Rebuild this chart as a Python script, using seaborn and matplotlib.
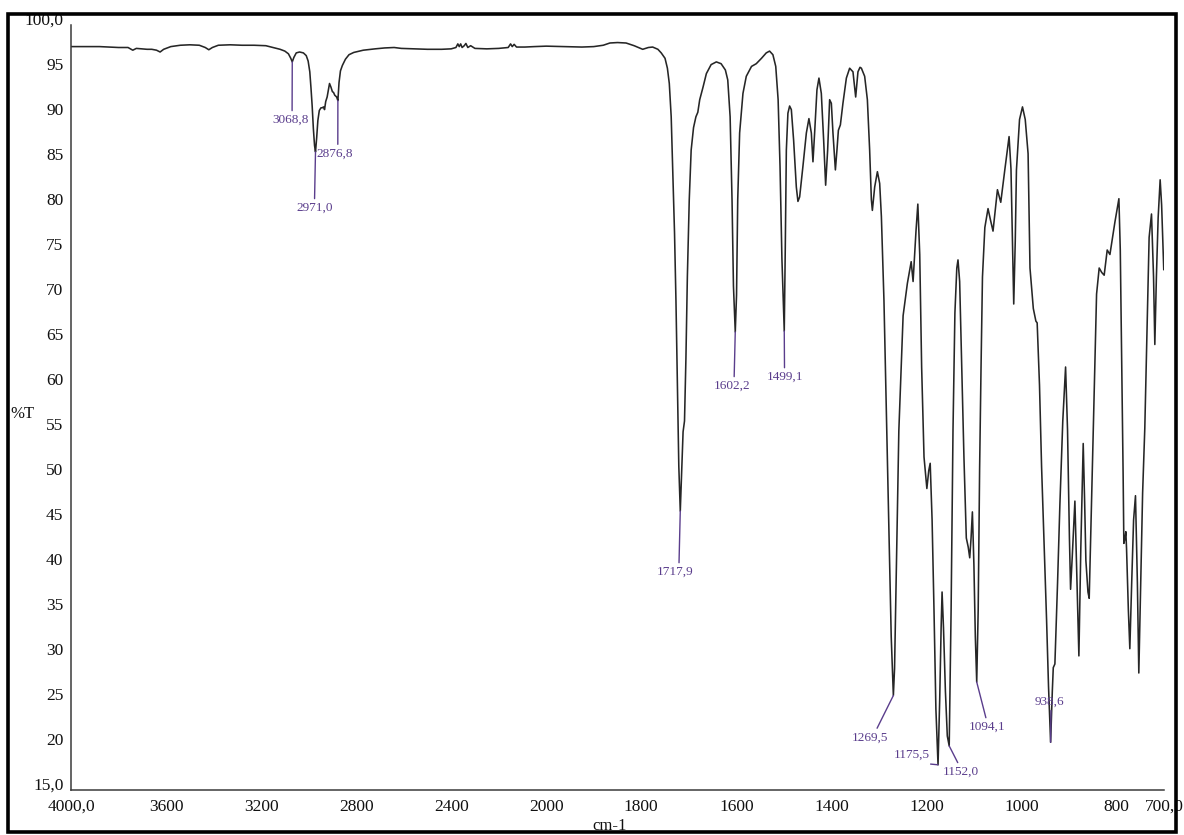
import numpy as np
import pandas as pd
import matplotlib
matplotlib.use("Agg")
import matplotlib.pyplot as plt
import seaborn as sns
from matplotlib.patches import Rectangle
from matplotlib.ticker import FixedLocator

# ---- IR spectrum (wavenumber in cm-1, transmittance in %T) ----
wavenumber = [
    4000, 3950, 3880, 3800, 3760, 3740, 3725, 3700, 3680, 3660, 3640, 3625, 3610,
    3580, 3540, 3500, 3460, 3435, 3420, 3405, 3380, 3330, 3280, 3230, 3180, 3150,
    3120, 3100, 3085, 3075, 3068.8, 3062, 3052, 3038, 3022, 3010, 3002, 2995, 2990,
    2985, 2980, 2975, 2971.0, 2966, 2961, 2955, 2948, 2943, 2937, 2933, 2928, 2922,
    2916, 2912, 2906, 2900, 2895, 2890, 2882, 2876.8, 2872, 2866, 2858, 2845, 2830,
    2810, 2770, 2720, 2680, 2640, 2610, 2560, 2500, 2440, 2400, 2380, 2372, 2366,
    2360, 2354, 2345, 2338, 2330, 2318, 2300, 2250, 2200, 2160, 2150, 2143, 2135,
    2125, 2090, 2050, 2000, 1960, 1925, 1900, 1880, 1866, 1850, 1832, 1815, 1797,
    1785, 1776, 1765, 1758, 1750, 1745, 1741, 1737, 1734, 1730, 1727, 1724, 1721,
    1717.9, 1715, 1712, 1709, 1706, 1703, 1699, 1695, 1690, 1685, 1681, 1677, 1670,
    1663, 1653, 1642, 1632, 1623, 1618, 1613, 1609, 1606, 1602.2, 1599.5, 1597, 1593,
    1586, 1579, 1568, 1558, 1547, 1537, 1530, 1523, 1517, 1512, 1508, 1504, 1499.1,
    1497, 1494.7, 1491.4, 1487.8, 1484.2, 1479.4, 1473.7, 1470.3, 1466.7, 1459.8,
    1452.6, 1447.2, 1442.1, 1438.7, 1435.2, 1430.3, 1426.1, 1421.1, 1416.2, 1412,
    1407.8, 1403.6, 1400, 1396.6, 1391.5, 1388.2, 1385.2, 1381, 1375.6, 1368.4,
    1361.5, 1354.5, 1348.8, 1344, 1339.7, 1336.8, 1329.9, 1324.2, 1319.4, 1315.8,
    1313.7, 1308.8, 1303.1, 1298.3, 1294.7, 1291.4, 1289.3, 1280, 1274, 1269.5,
    1267, 1264, 1261, 1258, 1253, 1249, 1240, 1232, 1228, 1222, 1218, 1214, 1210,
    1205, 1199, 1195, 1192, 1188, 1184, 1180, 1175.5, 1172, 1169, 1167, 1164, 1160,
    1156, 1152.0, 1148, 1144, 1140, 1136, 1133.5, 1130, 1126, 1121, 1116, 1112,
    1108.8, 1106, 1103.2, 1100, 1097, 1094.1, 1091, 1088, 1085, 1082, 1077, 1070.3,
    1065, 1059.8, 1055, 1050.5, 1043.5, 1035, 1026, 1022, 1019, 1016.2, 1013,
    1010.5, 1004, 997.8, 992, 986, 982, 975, 969.6, 966.9, 962, 957.6, 952, 947.1,
    943, 938.6, 935, 933, 929.6, 924, 919.1, 913, 907.1, 903, 899, 896.6, 893,
    887.5, 883, 879.1, 875, 870, 867, 864.4, 860, 857.4, 853, 849, 845, 841.9,
    836.4, 831, 825.9, 819.5, 813.8, 808, 803.3, 794.9, 792, 789.3, 786, 784.5,
    782, 780.3, 778.8, 775, 771.9, 768, 764, 760, 756, 753, 749, 745, 740.4, 735,
    731.3, 726.3, 722, 719.3, 716, 712.3, 708.1, 705, 702, 700.5,
]
transmittance = [
    97.6, 97.6, 97.6, 97.5, 97.5, 97.2, 97.4, 97.35, 97.3, 97.3, 97.2, 97.0, 97.3,
    97.6, 97.75, 97.8, 97.75, 97.5, 97.25, 97.5, 97.75, 97.8, 97.75, 97.75, 97.7, 97.5,
    97.3, 97.1, 96.8, 96.3, 95.9, 96.4, 96.9, 97.0, 96.9, 96.6, 96.0, 94.8, 93.0,
    91.0, 88.5, 86.6, 85.9, 87.5, 89.4, 90.5, 90.8, 90.8, 90.9, 90.6, 91.5, 92.0,
    92.9, 93.5, 93.1, 92.6, 92.5, 92.2, 92.0, 91.6, 93.6, 94.9, 95.5, 96.2, 96.7,
    96.95, 97.2, 97.35, 97.45, 97.5, 97.4, 97.35, 97.3, 97.3, 97.35, 97.5, 97.9, 97.6,
    97.9, 97.5, 97.7, 97.95, 97.5, 97.7, 97.4, 97.35, 97.4, 97.5, 97.9, 97.6, 97.85,
    97.55, 97.55, 97.6, 97.65, 97.6, 97.55, 97.6, 97.75, 98.0, 98.05, 98.0, 97.7, 97.3,
    97.5, 97.55, 97.3, 96.9, 96.3, 95.2, 93.5, 89.8, 84.3, 76.9, 69.4, 60.0, 51.0,
    46.0, 50.5, 54.8, 56.0, 63.0, 72.0, 80.6, 86.1, 88.6, 89.8, 90.3, 91.7, 93.1,
    94.6, 95.6, 95.9, 95.7, 95.0, 93.9, 89.8, 80.6, 71.0, 65.9, 70.0, 80.6, 88.0,
    92.4, 94.3, 95.4, 95.7, 96.3, 96.9, 97.1, 96.7, 95.4, 91.7, 84.3, 74.0, 66.0,
    75.0, 86.1, 90.2, 91.0, 90.6, 87.2, 82.0, 80.4, 80.9, 84.3,
    88.0, 89.6, 88.0, 84.8, 88.0, 92.8, 94.1, 92.4, 87.2, 82.2,
    86.1, 91.7, 91.3, 88.0, 83.9, 86.1, 88.3, 88.9, 91.3, 94.1,
    95.2, 94.8, 92.0, 94.8, 95.3, 95.2, 94.3, 91.7, 86.1, 80.6,
    79.4, 82.0, 83.7, 82.4, 78.7, 73.1, 69.4, 47.0, 32.0, 25.5,
    28.5, 37.0, 46.0, 54.9, 62.0, 67.7, 71.3, 73.7, 71.5, 77.0, 80.1, 74.5, 62.0,
    52.0, 48.5, 50.5, 51.3, 45.0, 35.0, 24.0, 17.8, 25.0, 33.0, 37.0, 33.0, 26.0,
    21.0, 19.9, 35.0, 55.0, 68.0, 73.0, 73.9, 71.5, 63.0, 52.0, 43.0, 42.0,
    40.8, 43.0, 45.9, 40.0, 32.0, 27.0, 35.0, 50.7, 62.0, 72.0, 77.5, 79.6,
    78.3, 77.1, 79.5, 81.7, 80.3, 83.9, 87.6, 84.0, 76.0, 69.0, 76.0,
    83.9, 89.5, 90.9, 89.5, 85.7, 73.0, 68.5, 67.1, 66.9, 60.0, 50.9, 42.0, 33.9,
    26.5, 20.3, 26.0, 28.6, 29.0, 38.0, 46.7, 56.0, 62.0, 55.0, 43.0, 37.3, 41.0,
    47.1, 38.0, 29.9, 42.0, 53.5, 47.0, 40.5, 37.0, 36.3, 46.0, 55.2, 64.0, 70.1,
    73.0, 72.5, 72.2, 75.0, 74.5, 76.5, 78.1, 80.7, 75.0, 63.7, 50.0, 42.4,
    43.0, 43.7, 41.8, 35.0, 30.7, 38.0, 45.0, 47.7, 38.0, 28.0, 38.0, 48.0, 55.2, 68.0,
    76.4, 79.0, 72.0, 64.5, 72.0, 78.6, 82.8, 80.0, 75.0, 72.8,
]

# ---- labelled bands ----
peak_wavenumber = [3068.8, 2971.0, 2876.8, 1717.9, 1602.2, 1499.1,
                   1269.5, 1175.5, 1152.0, 1094.1, 938.6]
peak_text = ["3068,8", "2971,0", "2876,8", "1717,9", "1602,2", "1499,1",
             "1269,5", "1175,5", "1152,0", "1094,1", "938,6"]
# label offsets (pixels) and where the leader line leaves the label box
label_offset = [(-2, -58), (-1, -56), (-3, -53), (-5, -61), (-3, -54), (1, -46),
                (-23, -42), (-26, 10), (12, -26), (10, -45), (-1, 41)]
label_anchor = [(0.55, 1), (0.5, 1), (0.58, 1), (0.6, 1), (0.55, 1), (0.48, 1),
                (0.64, 1), (0.08, 0), (0.45, 1), (0.5, 1), (0.55, 0.5)]

x_ticks = [4000, 3600, 3200, 2800, 2400, 2000, 1800, 1600, 1400, 1200, 1000, 800, 700]
x_tick_labels = ["4000,0", "3600", "3200", "2800", "2400", "2000", "1800", "1600",
                 "1400", "1200", "1000", "800", "700,0"]
y_ticks = [15, 20, 25, 30, 35, 40, 45, 50, 55, 60, 65, 70, 75, 80, 85, 90, 95, 100]
y_tick_labels = ["15,0"] + [str(v) for v in y_ticks[1:-1]] + ["100,0"]

spectrum = pd.DataFrame({"wavenumber": wavenumber, "transmittance": transmittance})
lookup = dict(zip(wavenumber, transmittance))

sns.set_theme(style="white")
plt.rcParams["font.family"] = ["Liberation Serif", "DejaVu Serif"]

W, H = 1184, 835
fig = plt.figure(figsize=(W / 100, H / 100), dpi=100)
ax = fig.add_axes([71 / W, 1 - 790 / H, (1164 - 71) / W, (790 - 25) / H])

# wavenumber axis: the range above 2000 cm-1 is compressed by a factor of two
def fwd(w):
    w = np.asarray(w, dtype=float)
    return np.where(w <= 2000, w, 2000 + (w - 2000) * 0.5)

def inv(u):
    u = np.asarray(u, dtype=float)
    return np.where(u <= 2000, u, 2000 + (u - 2000) * 2.0)

ax.set_xscale("function", functions=(fwd, inv))

sns.lineplot(data=spectrum, x="wavenumber", y="transmittance", ax=ax,
             color="#262626", linewidth=1.15, sort=False, estimator=None)

ax.set_xlim(4000, 700)
ax.set_ylim(15, 100)
ax.xaxis.set_major_locator(FixedLocator(x_ticks))
ax.set_xticks(x_ticks, labels=x_tick_labels)
ax.set_yticks(y_ticks, labels=y_tick_labels, va="baseline")
ax.minorticks_off()
ax.set_xlabel("")
ax.set_ylabel("")

for side in ("top", "right"):
    ax.spines[side].set_visible(False)
for side in ("left", "bottom"):
    ax.spines[side].set_color("#3a3a3a")
    ax.spines[side].set_linewidth(1.1)

ax.tick_params(axis="both", direction="out", length=3.5, width=1.0,
               color="#3a3a3a", labelcolor="#111111", labelsize=12.5)
ax.tick_params(axis="x", pad=3)
ax.tick_params(axis="y", pad=2)
ax.grid(False)

purple = "#5a3d8c"
for wn, txt, off, anc in zip(peak_wavenumber, peak_text, label_offset, label_anchor):
    ax.annotate(txt, xy=(wn, lookup[wn]), xytext=off, textcoords="offset pixels",
                ha="center", va="center", fontsize=9.5, color=purple,
                arrowprops=dict(arrowstyle="-", color=purple, lw=1.0,
                                shrinkA=0, shrinkB=0, relpos=anc))

fig.text(10 / W, 1 - 414 / H, "%T", ha="left", va="center", fontsize=12,
         color="#111111")
fig.text(610 / W, 1 - 826 / H, "cm-1", ha="center", va="center", fontsize=12,
         color="#111111")

fig.patches.append(Rectangle((8 / W, 3 / H), (1176 - 8) / W, (831 - 13) / H,
                             transform=fig.transFigure, fill=False,
                             edgecolor="black", linewidth=2.6, zorder=10))

fig.savefig("out.png", dpi=100)
